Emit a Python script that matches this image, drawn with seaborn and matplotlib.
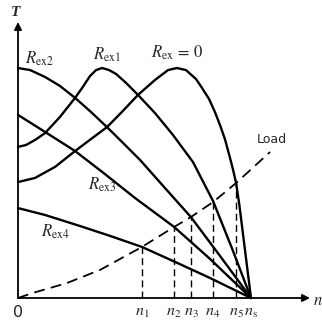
import numpy as np
import pandas as pd
import matplotlib
matplotlib.use("Agg")
import matplotlib.pyplot as plt
import seaborn as sns

# speed as n/ns, torque as T/Tmax
n_r0 = [0.00, 0.073, 0.159, 0.245, 0.313, 0.382, 0.446, 0.515, 0.588, 0.644, 0.682, 0.721, 0.764,
        0.790, 0.820, 0.845, 0.867, 0.888, 0.905, 0.922, 0.936, 0.950, 0.966, 0.983, 1.00]
t_r0 = [0.504, 0.522, 0.570, 0.639, 0.691, 0.743, 0.809, 0.883, 0.948, 0.991, 1.00, 0.991, 0.952,
        0.913, 0.865, 0.809, 0.752, 0.691, 0.628, 0.562, 0.500, 0.405, 0.275, 0.137, 0.00]

n_r1 = [0.00, 0.034, 0.073, 0.116, 0.180, 0.245, 0.275, 0.309, 0.335, 0.361, 0.391, 0.421, 0.464,
        0.515, 0.588, 0.665, 0.751, 0.837, 0.918, 1.00]
t_r1 = [0.657, 0.665, 0.687, 0.717, 0.787, 0.870, 0.913, 0.965, 0.991, 1.00, 0.991, 0.974, 0.935,
        0.883, 0.804, 0.709, 0.591, 0.422, 0.217, 0.00]

n_r2 = [0.00, 0.052, 0.116, 0.180, 0.245, 0.313, 0.382, 0.451, 0.524, 0.631, 0.742, 0.867, 1.00]
t_r2 = [1.00, 0.991, 0.961, 0.922, 0.870, 0.809, 0.743, 0.674, 0.600, 0.478, 0.352, 0.183, 0.00]

n_r3 = [0.00, 0.116, 0.245, 0.373, 0.502, 0.670, 0.824, 1.00]
t_r3 = [0.796, 0.722, 0.639, 0.539, 0.435, 0.309, 0.170, 0.00]

n_r4 = [0.00, 0.116, 0.266, 0.395, 0.532, 0.674, 0.824, 1.00]
t_r4 = [0.391, 0.361, 0.313, 0.270, 0.222, 0.157, 0.087, 0.00]

n_load = [0.00, 0.064, 0.210, 0.352, 0.532, 0.670, 0.742, 0.837, 0.936, 1.082]
t_load = [0.00, 0.022, 0.065, 0.122, 0.222, 0.309, 0.352, 0.417, 0.500, 0.635]

# operating points n1..n5
n_op = [0.532, 0.670, 0.742, 0.837, 0.936]
t_op = [0.222, 0.309, 0.352, 0.417, 0.500]
tick_pos = [0.0, 0.532, 0.670, 0.742, 0.837, 0.936, 1.0]
tick_lbl = ["0", "$n_1$", "$n_2$", "$n_3$", "$n_4$", "$n_5$", "$n_{\\rm s}$"]

curve_lbl = ["$R_{\\rm ex}\\,=\\,0$", "$R_{\\rm ex1}$", "$R_{\\rm ex2}$", "$R_{\\rm ex3}$", "$R_{\\rm ex4}$"]
lbl_pos = [(0.682, 1.065), (0.382, 1.057), (0.090, 1.039), (0.361, 0.491), (0.159, 0.287)]

sns.set_style("white")
plt.rcParams["mathtext.fontset"] = "stix"

fig = plt.figure(figsize=(3.22, 3.20), dpi=100)
ax = fig.add_axes([0, 0, 1, 1])
ax.set_xlim(-18 / 233, 304 / 233)
ax.set_ylim(-22 / 230, 298 / 230)
ax.set_axis_off()

curves = [(n_r0, t_r0), (n_r1, t_r1), (n_r2, t_r2), (n_r3, t_r3), (n_r4, t_r4)]
for nn, tt in curves:
    df = pd.DataFrame({"n": nn, "T": tt})
    sns.lineplot(data=df, x="n", y="T", ax=ax, color="black", lw=1.7, sort=False,
                 estimator=None, solid_joinstyle="round", solid_capstyle="round")

df_load = pd.DataFrame({"n": n_load, "T": t_load})
sns.lineplot(data=df_load, x="n", y="T", ax=ax, color="black", lw=1.3, sort=False,
             estimator=None, dashes=False, linestyle=(0, (6, 3.5)))

for x, y in zip(n_op, t_op):
    ax.plot([x, x], [0, y], color="black", lw=1.0, linestyle=(0, (5, 3)))

# axes with arrows
ax.annotate("", xy=(292 / 233, 0), xytext=(0, 0),
            arrowprops=dict(arrowstyle="-|>", lw=1.3, color="black", mutation_scale=11,
                            shrinkA=0, shrinkB=0))
ax.annotate("", xy=(0, 276 / 230), xytext=(0, 0),
            arrowprops=dict(arrowstyle="-|>", lw=1.3, color="black", mutation_scale=11,
                            shrinkA=0, shrinkB=0))

for x, s in zip(tick_pos, tick_lbl):
    ax.text(x, -0.061, s, ha="center", va="center", fontsize=11.5)

ax.text(-0.009, 1.243, "T", ha="center", va="center", fontsize=11,
        family="Liberation Serif", style="italic", weight="bold")
ax.text(1.288, -0.01, "$n$", ha="center", va="center", fontsize=12)

for s, (x, y) in zip(curve_lbl, lbl_pos):
    ax.text(x, y, s, ha="center", va="center", fontsize=12)

ax.text(1.090, 0.691, "Load", ha="center", va="center", fontsize=9, family="DejaVu Sans")

fig.savefig("out.png", dpi=100)
